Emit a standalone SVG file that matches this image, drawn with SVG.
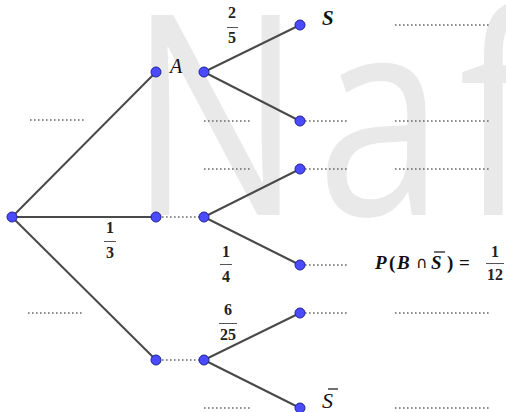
<svg xmlns="http://www.w3.org/2000/svg" width="506" height="412" viewBox="0 0 506 412">
<style>
.edge{stroke:#4a4a4a;stroke-width:2;stroke-linecap:round;fill:none}
.dot{stroke:#6a6a6a;stroke-width:1.6;stroke-dasharray:1.6 2.4;fill:none}
.node{fill:#4a4aff;stroke:#22229a;stroke-width:1}
.m{font-family:"Liberation Serif","DejaVu Serif",serif;fill:#111}
.num{font-family:"Liberation Serif","DejaVu Serif",serif;font-weight:bold;font-size:16px;fill:#222;text-anchor:middle}
.bar{stroke:#555;stroke-width:1}
</style>
<rect width="506" height="412" fill="#ffffff"/>
<text transform="translate(129,0) scale(0.82,1)" x="0" y="215" font-family="'Open Sans','Liberation Sans',sans-serif" font-size="280" letter-spacing="18" fill="#e9e9e9">Naf</text>
<g id="connectors">
<line class="edge" x1="12" y1="217" x2="156" y2="72"/>
<line class="edge" x1="12" y1="217" x2="156" y2="217"/>
<line class="edge" x1="12" y1="217" x2="156" y2="360"/>
<line class="edge" x1="204" y1="72" x2="300" y2="25"/>
<line class="edge" x1="204" y1="72" x2="300" y2="121"/>
<line class="edge" x1="204" y1="217" x2="300" y2="169"/>
<line class="edge" x1="204" y1="217" x2="300" y2="265"/>
<line class="edge" x1="204" y1="360" x2="300" y2="313"/>
<line class="edge" x1="204" y1="360" x2="300" y2="408"/>
<line class="dot" x1="162" y1="217" x2="199" y2="217"/>
<line class="dot" x1="162" y1="360" x2="199" y2="360"/>
<line class="dot" x1="305" y1="121" x2="347" y2="121"/>
<line class="dot" x1="305" y1="169" x2="347" y2="169"/>
<line class="dot" x1="305" y1="265" x2="347" y2="265"/>
<line class="dot" x1="305" y1="313" x2="347" y2="313"/>
</g>
<g id="blanks">
<line class="dot" x1="30" y1="120" x2="85" y2="120"/>
<line class="dot" x1="28" y1="313" x2="84" y2="313"/>
<line class="dot" x1="204" y1="121" x2="252" y2="121"/>
<line class="dot" x1="204" y1="169" x2="252" y2="169"/>
<line class="dot" x1="204" y1="408" x2="252" y2="408"/>
<line class="dot" x1="395" y1="25" x2="490" y2="25"/>
<line class="dot" x1="395" y1="121" x2="490" y2="121"/>
<line class="dot" x1="395" y1="169" x2="490" y2="169"/>
<line class="dot" x1="395" y1="313" x2="490" y2="313"/>
<line class="dot" x1="395" y1="408" x2="490" y2="408"/>
</g>
<g id="root"><circle class="node" cx="12" cy="217" r="5"/></g>
<g id="nA"><circle class="node" cx="156" cy="72" r="5"/><text class="m" x="170" y="73" font-size="20" font-style="italic">A</text></g>
<g id="nA2"><circle class="node" cx="204" cy="72" r="5"/></g>
<g id="nB"><circle class="node" cx="156" cy="217" r="5"/></g>
<g id="nB2"><circle class="node" cx="204" cy="217" r="5"/></g>
<g id="nC"><circle class="node" cx="156" cy="360" r="5"/></g>
<g id="nC2"><circle class="node" cx="204" cy="360" r="5"/></g>
<g id="leaf1"><circle class="node" cx="300" cy="25" r="5"/><text class="m" x="322" y="25" font-size="21" font-style="italic" font-weight="bold">S</text></g>
<g id="leaf2"><circle class="node" cx="300" cy="121" r="5"/></g>
<g id="leaf3"><circle class="node" cx="300" cy="169" r="5"/></g>
<g id="leaf4"><circle class="node" cx="300" cy="265" r="5"/></g>
<g id="leaf5"><circle class="node" cx="300" cy="313" r="5"/></g>
<g id="leaf6"><circle class="node" cx="300" cy="408" r="5"/><text class="m" x="322" y="408" font-size="22" font-style="italic">S</text><line x1="328" y1="389" x2="338" y2="389" stroke="#222" stroke-width="1.3"/></g>
<g id="labels">
<text class="num" x="232" y="18">2</text><line class="bar" x1="227" y1="27.5" x2="238" y2="27.5"/><text class="num" x="232" y="43">5</text>
<text class="num" x="110" y="233">1</text><line class="bar" x1="104" y1="241.5" x2="116" y2="241.5"/><text class="num" x="110" y="258">3</text>
<text class="num" x="226" y="257">1</text><line class="bar" x1="220" y1="264.5" x2="232" y2="264.5"/><text class="num" x="226" y="282">4</text>
<text class="num" x="228" y="315">6</text><line class="bar" x1="219" y1="323.5" x2="237" y2="323.5"/><text class="num" x="228" y="340">25</text>
</g>
<g id="formula" class="m" font-size="19" font-weight="bold">
<text x="375" y="269" font-style="italic">P</text>
<text x="389" y="269">(</text>
<text x="397" y="269" font-style="italic">B</text>
<text x="416" y="268" font-family="'DejaVu Sans',sans-serif" font-weight="normal" font-size="16">∩</text>
<text x="431" y="269" font-style="italic">S</text>
<line x1="434" y1="252" x2="445" y2="252" stroke="#222" stroke-width="1.3"/>
<text x="447" y="269">)</text>
<text x="459" y="269">=</text>
<text class="num" x="495" y="257">1</text><line class="bar" x1="486" y1="263.5" x2="504" y2="263.5"/><text class="num" x="495" y="280">12</text>
</g>
</svg>
